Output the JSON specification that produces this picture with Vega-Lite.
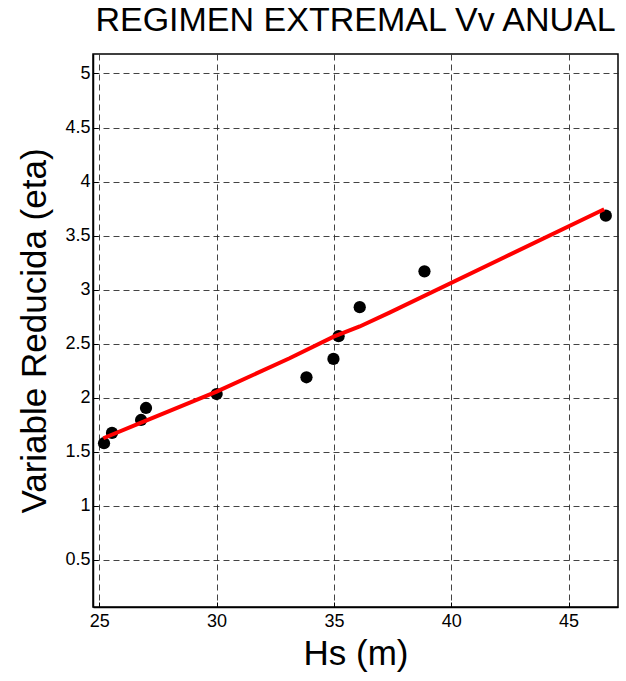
{
  "$schema": "https://vega.github.io/schema/vega-lite/v6.json",
  "width": 525,
  "height": 553,
  "autosize": {"type": "none"},
  "padding": {"left": 93, "top": 54, "right": 8, "bottom": 74},
  "background": "white",
  "title": {
    "text": "REGIMEN EXTREMAL Vv ANUAL",
    "font": "Liberation Sans",
    "fontSize": 34,
    "fontWeight": "normal",
    "color": "black",
    "anchor": "middle",
    "offset": 16
  },
  "config": {
    "view": {"stroke": "black", "strokeWidth": 1.5},
    "axis": {
      "labelFont": "Liberation Sans",
      "labelFontSize": 18,
      "labelColor": "black",
      "labelExpr": "datum.value",
      "titleFont": "Liberation Sans",
      "titleFontSize": 35,
      "titleFontWeight": "normal",
      "titleColor": "black",
      "domainColor": "black",
      "domainWidth": 1.5,
      "tickColor": "black",
      "tickSize": -5,
      "grid": true,
      "gridColor": "#222222",
      "gridDash": [6, 4],
      "gridWidth": 1,
      "gridOpacity": 0.85
    }
  },
  "datasets": {
    "obs": [
      {"hs": 25.2, "eta": 1.58},
      {"hs": 25.54, "eta": 1.675},
      {"hs": 26.78, "eta": 1.795},
      {"hs": 26.99, "eta": 1.906},
      {"hs": 30.0, "eta": 2.035},
      {"hs": 33.83, "eta": 2.19},
      {"hs": 34.98, "eta": 2.36},
      {"hs": 35.2, "eta": 2.57},
      {"hs": 36.1, "eta": 2.838},
      {"hs": 38.86, "eta": 3.17},
      {"hs": 46.59, "eta": 3.685}
    ],
    "fit": [
      {"hs": 25.17, "eta": 1.626},
      {"hs": 26.73, "eta": 1.765},
      {"hs": 30.0, "eta": 2.057},
      {"hs": 33.11, "eta": 2.366},
      {"hs": 34.99, "eta": 2.566},
      {"hs": 36.1, "eta": 2.66},
      {"hs": 37.37, "eta": 2.788},
      {"hs": 46.52, "eta": 3.744}
    ]
  },
  "layer": [
    {
      "data": {"name": "obs"},
      "mark": {"type": "point", "filled": true, "color": "black", "size": 150, "opacity": 1},
      "encoding": {
        "x": {
          "field": "hs", "type": "quantitative",
          "scale": {"domain": [24.73, 47.11], "nice": false, "zero": false},
          "axis": {"title": "Hs (m)", "values": [25, 30, 35, 40, 45], "labelPadding": 10, "titlePadding": 6}
        },
        "y": {
          "field": "eta", "type": "quantitative",
          "scale": {"domain": [0.065, 5.18], "nice": false, "zero": false},
          "axis": {"title": "Variable Reducida (eta)", "values": [0.5, 1, 1.5, 2, 2.5, 3, 3.5, 4, 4.5, 5], "labelPadding": 8, "titlePadding": 12}
        }
      }
    },
    {
      "data": {"name": "fit"},
      "mark": {"type": "line", "color": "red", "strokeWidth": 4},
      "encoding": {
        "x": {"field": "hs", "type": "quantitative"},
        "y": {"field": "eta", "type": "quantitative"}
      }
    }
  ]
}
